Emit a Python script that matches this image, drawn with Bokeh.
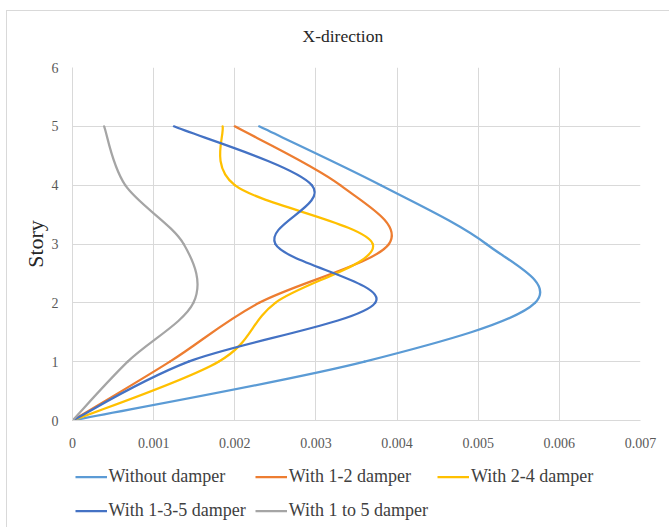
from bokeh.plotting import figure
from bokeh.models import FixedTicker, Range1d, Legend, ColumnDataSource
from bokeh.layouts import column
from bokeh.embed import file_html
from bokeh.resources import INLINE

# ---- data ----
stories = [0, 1, 2, 3, 4, 5]
without_damper = [0, 0.0036, 0.0057, 0.0051, 0.0038, 0.0023]
with_1_2_damper = [0, 0.0012, 0.0023, 0.0039, 0.0033, 0.0020]
with_2_4_damper = [0, 0.0018, 0.0025, 0.0037, 0.0020, 0.00185]
with_1_3_5_damper = [0, 0.00143, 0.00373, 0.0025, 0.00295, 0.00125]
with_1_to_5_damper = [0, 0.00068, 0.00149, 0.00137, 0.00065, 0.00039]

series_names = ["Without damper", "With 1-2 damper", "With 2-4 damper",
                "With 1-3-5 damper", "With 1 to 5 damper"]
series_values = [without_damper, with_1_2_damper, with_2_4_damper,
                 with_1_3_5_damper, with_1_to_5_damper]
series_colors = ["#5B9BD5", "#ED7D31", "#FFC000", "#4472C4", "#A5A5A5"]

x_ticks = [0, 0.001, 0.002, 0.003, 0.004, 0.005, 0.006, 0.007]
x_tick_labels = ["0", "0.001", "0.002", "0.003", "0.004", "0.005", "0.006", "0.007"]
y_ticks = [0, 1, 2, 3, 4, 5, 6]

FONT = "Liberation Serif"
LINE = "linear-gradient(#d9d9d9, #d9d9d9)"


def smooth_segments(xs, ys):
    """Bezier control points for an Excel-like smoothed line through the points."""
    n = len(xs)
    d = dict(x0=[], y0=[], x1=[], y1=[], cx0=[], cy0=[], cx1=[], cy1=[])
    for i in range(n - 1):
        a = max(i - 1, 0)
        b = min(i + 2, n - 1)
        d["x0"].append(xs[i]); d["y0"].append(ys[i])
        d["x1"].append(xs[i + 1]); d["y1"].append(ys[i + 1])
        d["cx0"].append(xs[i] + (xs[i + 1] - xs[a]) / 6.0)
        d["cy0"].append(ys[i] + (ys[i + 1] - ys[a]) / 6.0)
        d["cx1"].append(xs[i + 1] - (xs[b] - xs[i]) / 6.0)
        d["cy1"].append(ys[i + 1] - (ys[b] - ys[i]) / 6.0)
    return d


# ---------------- main chart ----------------
p = figure(width=669, height=454, output_backend="svg", toolbar_location=None,
           x_range=Range1d(0, 0.007), y_range=Range1d(0, 6),
           min_border_left=72, min_border_right=29, min_border_top=67,
           min_border_bottom=34, title="X-direction")
p.border_fill_alpha = 0
p.styles = {"background": f"{LINE} 6px 10px / 1px 100% no-repeat, "
                          f"{LINE} 6px 10px / 100% 1px no-repeat, white"}

p.title.align = "left"
p.title.offset = 230
p.title.standoff = 43
p.title.text_font = FONT
p.title.text_font_size = "17.5px"
p.title.text_font_style = "normal"
p.title.text_color = "#262626"

p.outline_line_color = None
p.background_fill_color = "white"

p.xaxis.ticker = FixedTicker(ticks=x_ticks)
p.xaxis.major_label_overrides = dict(zip(x_ticks, x_tick_labels))
p.yaxis.ticker = FixedTicker(ticks=y_ticks)
p.xgrid.ticker = FixedTicker(ticks=x_ticks)
p.ygrid.ticker = FixedTicker(ticks=y_ticks)
for g in (p.xgrid, p.ygrid):
    g.grid_line_color = "#D9D9D9"
    g.grid_line_width = 1

for ax in (p.xaxis, p.yaxis):
    ax.axis_line_color = "#D9D9D9"
    ax.major_tick_line_color = None
    ax.minor_tick_line_color = None
    ax.major_tick_out = 0
    ax.major_tick_in = 0
    ax.major_label_text_font = FONT
    ax.major_label_text_font_size = "14px"
    ax.major_label_text_color = "#595959"
p.xaxis.major_label_standoff = 17
p.yaxis.major_label_standoff = 14

p.yaxis.axis_label = "Story"
p.yaxis.axis_label_text_font = FONT
p.yaxis.axis_label_text_font_size = "22px"
p.yaxis.axis_label_text_font_style = "normal"
p.yaxis.axis_label_text_color = "#262626"
p.yaxis.axis_label_standoff = 1

for name, vals, col in zip(series_names, series_values, series_colors):
    src = ColumnDataSource(smooth_segments(vals, stories))
    p.bezier(x0="x0", y0="y0", x1="x1", y1="y1", cx0="cx0", cy0="cy0",
             cx1="cx1", cy1="cy1", source=src, line_color=col,
             line_width=2.25, line_cap="round")

# ---------------- legend strip (frame aligned with the chart) ----------------
pl = figure(width=669, height=73, output_backend="svg", toolbar_location=None,
            x_axis_type=None, y_axis_type=None, x_range=Range1d(0, 1),
            y_range=Range1d(-2, -1), min_border=0)
pl.grid.visible = False
pl.outline_line_color = None
pl.border_fill_alpha = 0
pl.background_fill_alpha = 0
pl.styles = {"background": f"{LINE} 6px 0px / 1px 100% no-repeat, white"}

items = []
for name, vals, col in zip(series_names, series_values, series_colors):
    # same series, lying outside this strip's visible range: only its legend swatch shows
    r = pl.line(x=vals, y=stories, line_color=col, line_width=2.25)
    items.append((name, [r]))

legend = Legend(items=items, ncols=3, orientation="horizontal",
                location=(2.6, 4.5), margin=0, padding=0, spacing=9,
                glyph_width=32, glyph_height=25, label_height=25,
                label_standoff=2, label_text_font=FONT,
                label_text_font_size="18px", label_text_color="#404040",
                border_line_color=None, background_fill_alpha=0)
pl.add_layout(legend, "center")

layout = column(p, pl, spacing=0)
open("out.html", "w").write(file_html(layout, INLINE))
